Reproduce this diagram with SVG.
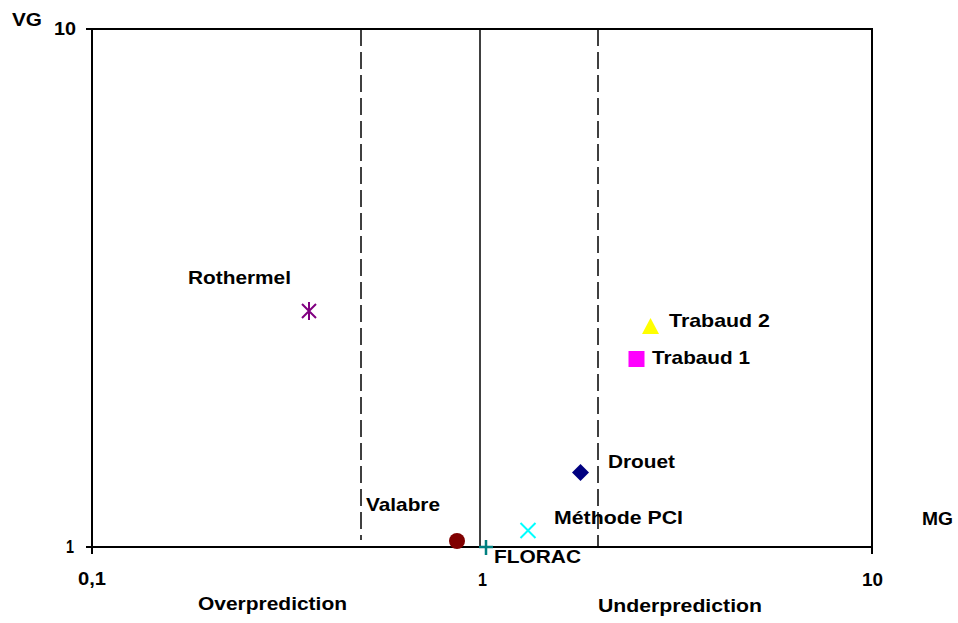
<svg xmlns="http://www.w3.org/2000/svg" width="958" height="623" viewBox="0 0 958 623">
<style>
.t{font-family:"Liberation Sans",Arial,sans-serif;font-weight:bold;font-size:18.5px;fill:#000}
.ax{stroke:#000;stroke-width:2;fill:none}
.dash{stroke:#000;stroke-width:1.5;stroke-dasharray:17,6;fill:none}
</style>
<rect width="958" height="623" fill="#fff"/>
<g id="axes">
<path class="ax" d="M92,29 H872 V554 M92,29 V554 M86,29 H92 M86,547 H872"/>
<line x1="480" y1="29" x2="480" y2="547" stroke="#000" stroke-width="1.5"/>
<line class="dash" x1="361" y1="29" x2="361" y2="540"/>
<line class="dash" x1="598" y1="29" x2="598" y2="546"/>
</g>
<g id="axis-labels">
<text class="t" x="12" y="26" textLength="30" lengthAdjust="spacingAndGlyphs">VG</text>
<text class="t" x="54" y="35" textLength="22" lengthAdjust="spacingAndGlyphs">10</text>
<text class="t" x="66" y="553" textLength="8" lengthAdjust="spacingAndGlyphs">1</text>
<text class="t" x="78" y="585" textLength="28" lengthAdjust="spacingAndGlyphs">0,1</text>
<text class="t" x="478" y="586" textLength="9" lengthAdjust="spacingAndGlyphs">1</text>
<text class="t" x="862" y="586" textLength="21" lengthAdjust="spacingAndGlyphs">10</text>
<text class="t" x="922" y="525" textLength="31" lengthAdjust="spacingAndGlyphs">MG</text>
<text class="t" x="198" y="610" textLength="149" lengthAdjust="spacingAndGlyphs">Overprediction</text>
<text class="t" x="598" y="612" textLength="164" lengthAdjust="spacingAndGlyphs">Underprediction</text>
</g>
<g id="rothermel">
<path d="M302,304 L316,318 M316,304 L302,318 M309,302 V320" stroke="#800080" stroke-width="2" fill="none"/>
<text class="t" x="188" y="284" textLength="103" lengthAdjust="spacingAndGlyphs">Rothermel</text>
</g>
<g id="trabaud2">
<polygon points="650.5,318 659,334 642,334" fill="#ffff00"/>
<text class="t" x="669" y="327" textLength="101" lengthAdjust="spacingAndGlyphs">Trabaud 2</text>
</g>
<g id="trabaud1">
<rect x="628.5" y="351" width="16" height="16" fill="#ff00ff"/>
<text class="t" x="652" y="364" textLength="98" lengthAdjust="spacingAndGlyphs">Trabaud 1</text>
</g>
<g id="drouet">
<polygon points="580.5,464 589,472.5 580.5,481 572,472.5" fill="#000080"/>
<text class="t" x="608" y="468" textLength="67" lengthAdjust="spacingAndGlyphs">Drouet</text>
</g>
<g id="methode-pci">
<path d="M520.5,523 L535.5,538 M535.5,523 L520.5,538" stroke="#00ffff" stroke-width="2" fill="none"/>
<text class="t" x="554" y="524" textLength="129" lengthAdjust="spacingAndGlyphs">Méthode PCI</text>
</g>
<g id="valabre">
<circle cx="457" cy="541" r="8" fill="#800000"/>
<text class="t" x="366" y="511" textLength="74" lengthAdjust="spacingAndGlyphs">Valabre</text>
</g>
<g id="florac">
<path d="M479,547 H493 M486,540 V555" stroke="#008080" stroke-width="2.5" fill="none"/>
<text class="t" x="494" y="563" textLength="87" lengthAdjust="spacingAndGlyphs">FLORAC</text>
</g>
<g id="connectors"></g>
</svg>
